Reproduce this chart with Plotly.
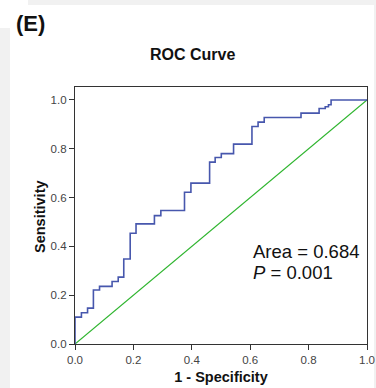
import plotly.graph_objects as go

# ROC curve step points (1 - specificity, sensitivity)
fpr = [0, 0, 0.022, 0.043, 0.063, 0.084, 0.127, 0.148, 0.167, 0.189, 0.209, 0.272,
       0.294, 0.375, 0.397, 0.461, 0.480, 0.501, 0.543, 0.606, 0.627, 0.648, 0.774,
       0.836, 0.857, 0.868, 0.877, 1.0]
tpr = [0, 0.11, 0.128, 0.147, 0.221, 0.236, 0.256, 0.274, 0.348, 0.454, 0.492, 0.526,
       0.547, 0.622, 0.659, 0.745, 0.764, 0.780, 0.819, 0.891, 0.909, 0.928, 0.946,
       0.965, 0.972, 0.98, 1.0, 1.0]
ref_x = [0, 1]
ref_y = [0, 1]
tick_vals = [0.0, 0.2, 0.4, 0.6, 0.8, 1.0]
tick_text = ["0.0", "0.2", "0.4", "0.6", "0.8", "1.0"]
area_text = "Area = 0.684"
p_text = "<i>P</i> = 0.001"

FONT = "Liberation Sans, Arial, sans-serif"

fig = go.Figure()
fig.add_trace(go.Scatter(x=ref_x, y=ref_y, mode="lines",
                         line=dict(color="#2fb52f", width=1.2), hoverinfo="skip"))
fig.add_trace(go.Scatter(x=fpr, y=tpr, mode="lines", line_shape="hv",
                         line=dict(color="#4757ad", width=1.6), hoverinfo="skip"))

L, R, T, B = 75, 9, 87, 44
W, H = 376, 388
pw, ph = W - L - R, H - T - B

def px(xp):
    return (xp - L) / pw

def py(yp):
    return (H - B - yp) / ph

axis_common = dict(
    showgrid=False, zeroline=False, showline=True, linecolor="#333333", linewidth=1.3,
    mirror=True, ticks="outside", ticklen=5, tickwidth=1.3, tickcolor="#333333",
    tickvals=tick_vals, ticktext=tick_text, automargin=False,
    tickfont=dict(family=FONT, size=11.5, color="#444444"),
)

fig.update_layout(
    width=W, height=H,
    margin=dict(l=L, r=R, t=T, b=B),
    paper_bgcolor="#f1f1f1",
    plot_bgcolor="white",
    showlegend=False,
    xaxis=dict(range=[0, 1.0], title=dict(text="<b>1 - Specificity</b>",
               font=dict(family=FONT, size=14.5, color="#111111"), standoff=6),
               **axis_common),
    yaxis=dict(range=[0, 1.053], **axis_common),
    shapes=[
        dict(type="rect", xref="paper", yref="paper", x0=px(10), x1=px(374),
             y0=py(388), y1=py(5), fillcolor="white", line=dict(width=0), layer="below"),
        dict(type="rect", xref="paper", yref="paper", x0=px(0), x1=px(28),
             y0=py(28), y1=py(0), fillcolor="white", line=dict(width=0), layer="below"),
    ],
    annotations=[
        dict(text="<b>Sensitivity</b>", xref="paper", yref="paper", x=px(40), y=py(217),
             xanchor="center", yanchor="middle", textangle=-90, showarrow=False,
             font=dict(family=FONT, size=14.5, color="#111111")),
        dict(text="<b>(E)</b>", xref="paper", yref="paper", x=px(14), y=py(23.5),
             xanchor="left", yanchor="middle", showarrow=False,
             font=dict(family=FONT, size=22, color="#111111")),
        dict(text="<b>ROC Curve</b>", xref="paper", yref="paper", x=px(192.5), y=py(54.5),
             xanchor="center", yanchor="middle", showarrow=False,
             font=dict(family=FONT, size=16, color="#111111")),
        dict(text=area_text, xref="paper", yref="paper", x=px(251), y=py(251.5),
             xanchor="left", yanchor="middle", showarrow=False,
             font=dict(family=FONT, size=18.5, color="#111111")),
        dict(text=p_text, xref="paper", yref="paper", x=px(251), y=py(272),
             xanchor="left", yanchor="middle", showarrow=False,
             font=dict(family=FONT, size=18.5, color="#111111")),
    ],
)

fig.write_html("out.html")
